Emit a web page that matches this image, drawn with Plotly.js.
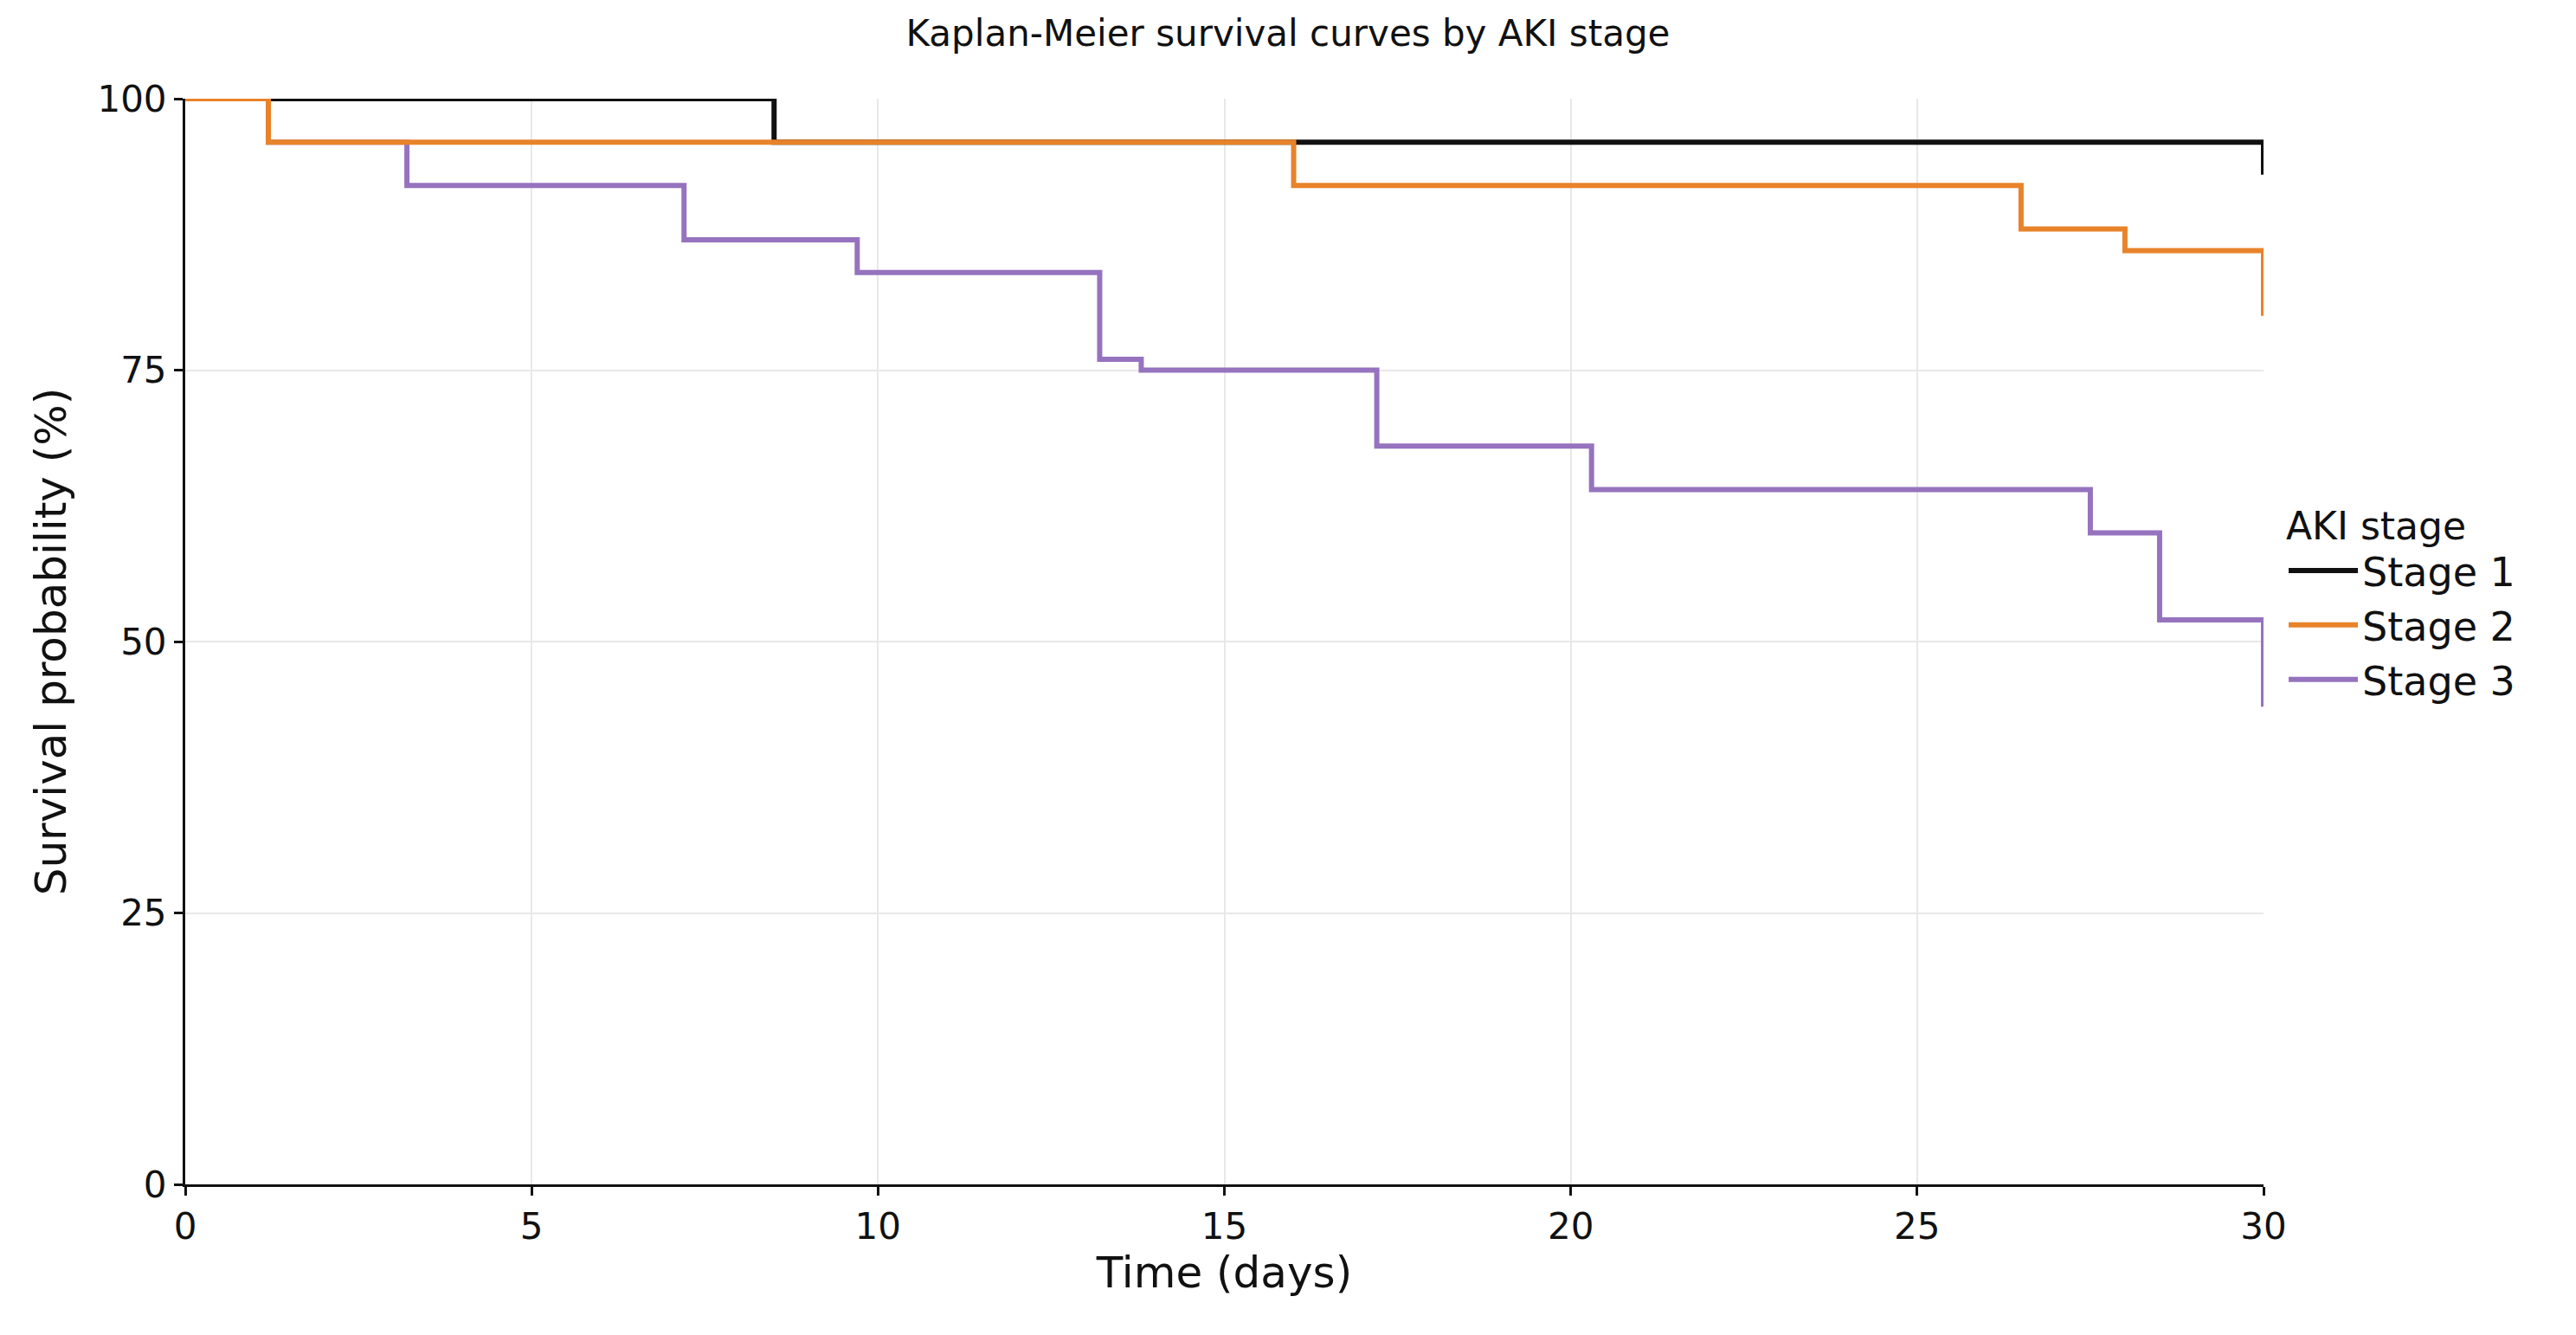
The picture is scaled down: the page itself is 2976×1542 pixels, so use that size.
<!DOCTYPE html>
<html>
<head>
<meta charset="utf-8">
<script src="https://cdn.plot.ly/plotly-3.0.1.min.js"></script>
<style>body{margin:0;background:#fff}</style>
</head>
<body>
<div id="graphDiv" style="width:2976px;height:1542px"></div>
<script>
// step times (days) and survival (%)
var stage1Time = [0, 8.5, 30, 30];
var stage1Surv = [100, 96, 96, 93];
var stage2Time = [0, 1.2, 16, 26.5, 28, 30, 30];
var stage2Surv = [100, 96, 92, 88, 86, 86, 80];
var stage3Time = [0, 1.2, 3.2, 7.2, 9.7, 13.2, 13.8, 17.2, 20.3, 27.5, 28.5, 30, 30];
var stage3Surv = [100, 96, 92, 87, 84, 76, 75, 68, 64, 60, 52, 52, 44];

var fontFam = "DejaVu Sans, Verdana, sans-serif";

function stepTrace(name, x, y, color, rank) {
    return {
        type: 'scatter',
        mode: 'lines',
        name: name,
        x: x,
        y: y,
        line: {shape: 'hv', color: color, width: 6},
        legendrank: rank
    };
}

var data = [
    stepTrace('Stage 3', stage3Time, stage3Surv, '#9673be', 3),
    stepTrace('Stage 1', stage1Time, stage1Surv, '#111111', 1),
    stepTrace('Stage 2', stage2Time, stage2Surv, '#e8832a', 2)
];

var layout = {
    autosize: false,
    width: 2976,
    height: 1542,
    margin: {l: 214, r: 361, t: 114, b: 174},
    paper_bgcolor: '#fff',
    plot_bgcolor: '#fff',
    font: {family: fontFam, size: 42, color: '#111'},
    title: {text: 'Kaplan-Meier survival curves by AKI stage', x: 0.5, xanchor: 'center', y: 0.985, yanchor: 'top', font: {size: 42}},
    xaxis: {
        range: [0, 30], tickvals: [0, 5, 10, 15, 20, 25, 30],
        showline: true, linecolor: '#111', linewidth: 3,
        ticks: 'outside', ticklen: 10, tickwidth: 3, tickcolor: '#111',
        showgrid: true, gridcolor: '#e8e8e8', gridwidth: 2, zeroline: false,
        title: {text: 'Time (days)', standoff: 6}
    },
    yaxis: {
        range: [0, 100], tickvals: [0, 25, 50, 75, 100],
        showline: true, linecolor: '#111', linewidth: 3,
        ticks: 'outside', ticklen: 10, tickwidth: 3, tickcolor: '#111',
        showgrid: true, gridcolor: '#e8e8e8', gridwidth: 2, zeroline: false,
        title: {text: 'Survival probability (%)', standoff: 20}
    },
    legend: {
        x: 1.01, xanchor: 'left', y: 0.64, yanchor: 'top',
        title: {text: 'AKI stage', font: {size: 44}},
        font: {size: 46}, itemwidth: 80, tracegroupgap: 0
    },
    showlegend: true
};

Plotly.newPlot('graphDiv', data, layout, {displayModeBar: false, staticPlot: true});
</script>
</body>
</html>
